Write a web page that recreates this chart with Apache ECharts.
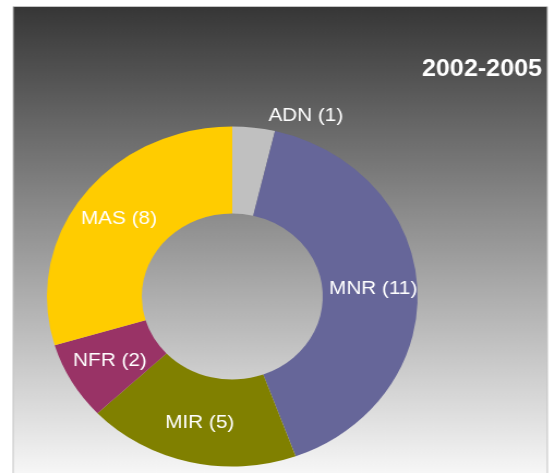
<!DOCTYPE html>
<html>
<head>
<meta charset="utf-8">
<script src="https://cdn.jsdelivr.net/npm/echarts@6/dist/echarts.min.js"></script>
<style>
  html, body { margin: 0; padding: 0; background: #fff; overflow: hidden; }
  /* the original picture is stretched sideways, so the chart is drawn narrow and scaled */
  #chart { width: 509px; height: 473px; transform: scaleX(1.0904); transform-origin: 0 0; }
</style>
</head>
<body>
<div id="chart"></div>
<script>
let categories = ['ADN', 'MNR', 'MIR', 'NFR', 'MAS'];
let counts = [1, 11, 5, 2, 8];
let colors = ['#c0c0c0', '#666699', '#808000', '#993366', '#ffcc00'];
let period = '2002-2005';

let myChart = echarts.init(document.getElementById('chart'));

let data = categories.map(function (name, i) {
    let item = { name: name, value: counts[i], itemStyle: { color: colors[i] } };
    if (counts[i] === 1) {
        item.label = { position: 'outside', distanceToLabelLine: 5 };
        item.labelLine = { show: false, length: 12, length2: 7 };
    }
    return item;
});

let option = {
    animation: false,
    graphic: [{
        type: 'rect',
        silent: true,
        z: -10,
        shape: { x: 12, y: 6.5, width: 490, height: 470 },
        style: {
            fill: new echarts.graphic.LinearGradient(0, 0, 0, 1, [
                { offset: 0, color: '#363636' },
                { offset: 1, color: '#f8f8f8' }
            ]),
            stroke: '#c4c4c4',
            lineWidth: 1
        }
    }],
    title: {
        text: period,
        right: 7,
        top: 53,
        textStyle: {
            color: '#ffffff',
            fontFamily: 'Liberation Sans, Arial, sans-serif',
            fontWeight: 'bold',
            fontSize: 23
        }
    },
    series: [{
        type: 'pie',
        center: [213, 296.5],
        radius: [83, 170],
        startAngle: 90,
        clockwise: true,
        avoidLabelOverlap: false,
        itemStyle: { borderWidth: 0 },
        label: {
            show: true,
            position: 'inside',
            formatter: '{b} ({c})',
            color: '#ffffff',
            fontFamily: 'Liberation Sans, Arial, sans-serif',
            fontSize: 19,
            textBorderWidth: 0
        },
        labelLine: { show: false },
        emphasis: { disabled: true },
        data: data
    }]
};

myChart.setOption(option);
</script>
</body>
</html>
